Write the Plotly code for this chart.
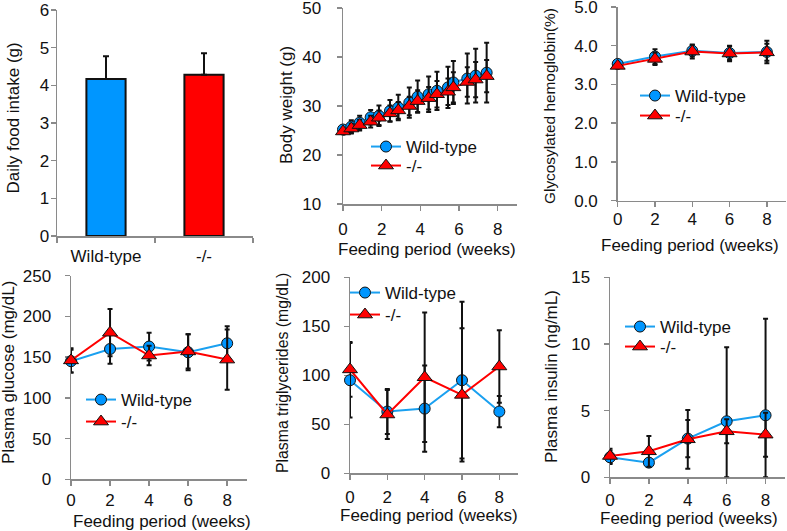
import plotly.graph_objects as go

# ---------------- data ----------------
groups = ["Wild-type", "-/-"]
food_intake = [4.17, 4.28]
food_intake_err = [0.60, 0.57]

bw_weeks = [0, 0.43, 0.86, 1.43, 1.86, 2.43, 2.86, 3.43, 3.86, 4.43, 4.86, 5.43, 5.71, 6.43, 6.86, 7.43]
bw_wt = [25.2, 25.8, 26.6, 27.7, 28.0, 29.0, 29.7, 30.7, 31.9, 32.4, 33.1, 33.8, 34.8, 35.6, 36.2, 36.8]
bw_wt_err = [0.6, 1.3, 1.4, 1.5, 2.1, 2.2, 2.6, 3.1, 3.3, 3.6, 3.9, 4.2, 4.4, 5.1, 5.5, 6.1]
bw_ko = [24.8, 25.4, 26.1, 26.8, 27.6, 28.5, 29.1, 30.0, 31.0, 31.6, 32.4, 32.9, 33.8, 34.9, 35.4, 36.1]
bw_ko_err = [0.6, 1.0, 1.1, 1.2, 1.5, 1.6, 1.7, 1.9, 2.2, 2.3, 2.7, 2.7, 3.1, 3.0, 3.6, 3.3]

weeks = [0, 2, 4, 6, 8]

hb_wt = [3.53, 3.72, 3.87, 3.81, 3.84]
hb_wt_err = [0.05, 0.19, 0.15, 0.18, 0.29]
hb_ko = [3.48, 3.66, 3.85, 3.80, 3.83]
hb_ko_err = [0.05, 0.16, 0.18, 0.20, 0.22]

glu_wt = [145, 160, 163, 156, 167]
glu_wt_err = [14, 18, 17, 22, 21]
glu_ko = [146, 180, 152, 157, 147]
glu_ko_err = [15, 29, 12, 21, 37]

tg_wt = [95, 63, 66, 95, 63]
tg_wt_err = [38, 23, 44, 80, 16]
tg_ko = [106, 60, 98, 80, 109]
tg_ko_err = [28, 25, 66, 68, 37]

ins_wt = [1.5, 1.1, 2.9, 4.2, 4.65]
ins_wt_err = [0.5, 0.3, 1.4, 5.55, 7.25]
ins_ko = [1.6, 1.95, 2.85, 3.45, 3.2]
ins_ko_err = [0.55, 1.15, 2.2, 0.9, 1.65]

# ---------------- style ----------------
FONT = "Arial, Liberation Sans, sans-serif"
FS = 17
TXT = "#111111"
AX = "#8a8a8a"
BLUE = "#0096FF"
BLUE_LINE = "#1aa0f0"
RED = "#FF0000"
W, H = 787, 531

def dom_x(a, b):
    return [a / W, b / W]

def dom_y(top, bottom):
    return [1 - bottom / H, 1 - top / H]

fig = go.Figure()

# Panel 1: bars
fig.add_trace(go.Bar(
    x=groups, y=food_intake, width=0.4,
    marker=dict(color=[BLUE, RED], line=dict(color="#111111", width=2)),
    error_y=dict(type="data", symmetric=False, array=food_intake_err,
                 arrayminus=[0, 0], color="#111111", thickness=2, width=3),
    xaxis="x", yaxis="y", showlegend=False,
))

def add_pair(xv, wt, wte, ko, koe, xa, ya, lg_wt, lg_ko, clip_zero=False):
    wt_minus = [min(e, v) for v, e in zip(wt, wte)] if clip_zero else wte
    ko_minus = [min(e, v) for v, e in zip(ko, koe)] if clip_zero else koe
    fig.add_trace(go.Scatter(
        x=xv, y=wt, name="Wild-type", mode="lines+markers",
        line=dict(color=BLUE_LINE, width=2),
        marker=dict(symbol="circle", size=11, color=BLUE, line=dict(color="#111111", width=1)),
        error_y=dict(type="data", symmetric=False, array=wte, arrayminus=wt_minus,
                     color="#111111", thickness=2, width=2.5),
        xaxis=xa, yaxis=ya, legend=lg_wt, cliponaxis=False,
    ))
    fig.add_trace(go.Scatter(
        x=xv, y=ko, name="-/-", mode="lines+markers",
        line=dict(color=RED, width=2),
        marker=dict(symbol="triangle-up", size=13, color=RED, line=dict(color="#111111", width=1)),
        error_y=dict(type="data", symmetric=False, array=koe, arrayminus=ko_minus,
                     color="#111111", thickness=2, width=2.5),
        xaxis=xa, yaxis=ya, legend=lg_ko, cliponaxis=False,
    ))

add_pair(bw_weeks, bw_wt, bw_wt_err, bw_ko, bw_ko_err, "x2", "y2", "legend", "legend2")
add_pair(weeks, hb_wt, hb_wt_err, hb_ko, hb_ko_err, "x3", "y3", "legend3", "legend4")
add_pair(weeks, glu_wt, glu_wt_err, glu_ko, glu_ko_err, "x4", "y4", "legend5", "legend6")
add_pair(weeks, tg_wt, tg_wt_err, tg_ko, tg_ko_err, "x5", "y5", "legend7", "legend8")
add_pair(weeks, ins_wt, ins_wt_err, ins_ko, ins_ko_err, "x6", "y6", "legend9", "legend10", clip_zero=True)

axis_common = dict(
    showline=True, linecolor=AX, linewidth=1.5, ticks="outside", tickcolor=AX,
    ticklen=5, tickwidth=1.5, showgrid=False, zeroline=False, layer="below traces",
    tickfont=dict(family=FONT, size=FS, color=TXT), fixedrange=True, automargin=False,
    ticklabeloverflow="allow",
)

def xaxis_lin(dom, anchor, standoff=0):
    return dict(axis_common, domain=dom, anchor=anchor, range=[0, 9],
                tickvals=weeks, ticktext=[str(w) for w in weeks],
                ticklabelstandoff=standoff)

def yaxis_lin(dom, anchor, rng, dtick, fmt=None, standoff=10):
    d = dict(axis_common, domain=dom, anchor=anchor, range=rng, dtick=dtick, tick0=0,
             ticklabelstandoff=standoff)
    if fmt:
        d["tickformat"] = fmt
    return d

layout = dict(
    width=W, height=H, margin=dict(l=0, r=0, t=0, b=0, autoexpand=False),
    paper_bgcolor="white", plot_bgcolor="white",
    font=dict(family=FONT, size=FS, color=TXT),
    xaxis=dict(axis_common, domain=dom_x(57, 253), anchor="y", type="category",
               range=[-0.5, 1.5], tickson="boundaries", ticklabelstandoff=4),
    yaxis=yaxis_lin(dom_y(10, 236), "x", [0, 6], 1, standoff=-2),
    xaxis2=xaxis_lin(dom_x(343, 517), "y2", 4),
    yaxis2=yaxis_lin(dom_y(8, 204), "x2", [10, 50], 10, standoff=12),
    xaxis3=xaxis_lin(dom_x(617.7, 785.5), "y3", -3),
    yaxis3=yaxis_lin(dom_y(7, 200.7), "x3", [0, 5], 1, ".1f"),
    xaxis4=xaxis_lin(dom_x(71, 246.7), "y4", 0),
    yaxis4=yaxis_lin(dom_y(275.7, 479.3), "x4", [0, 250], 50),
    xaxis5=xaxis_lin(dom_x(350, 518), "y5", 3),
    yaxis5=yaxis_lin(dom_y(277.3, 473.3), "x5", [0, 200], 50),
    xaxis6=xaxis_lin(dom_x(610, 785), "y6", 2),
    yaxis6=yaxis_lin(dom_y(277.3, 477.3), "x6", [0, 15], 5),
)

# axis titles (text placed at pixel positions of the reference)
y_titles = [
    ("Daily food intake (g)", 12.5, 118, FS),
    ("Body weight (g)", 286, 105, FS),
    ("Glycosylated hemoglobin(%)", 550, 106, 15.4),
    ("Plasma glucose (mg/dL)", 8, 373, FS),
    ("Plasma triglycerides (mg/dL)", 282, 373, 15.8),
    ("Plasma insulin (ng/mL)", 551, 377, FS),
]
x_titles = [
    ("Feeding period (weeks)", 427, 249),
    ("Feeding period (weeks)", 690, 246),
    ("Feeding period (weeks)", 161.5, 521),
    ("Feeding period (weeks)", 429, 515),
    ("Feeding period (weeks)", 689, 518),
]
annotations = []
for txt, px, py, fs in y_titles:
    annotations.append(dict(text=txt, x=px / W, y=1 - py / H, xref="paper", yref="paper",
                            xanchor="center", yanchor="middle", textangle=-90, showarrow=False,
                            font=dict(family=FONT, size=fs, color=TXT)))
for txt, px, py in x_titles:
    annotations.append(dict(text=txt, x=px / W, y=1 - py / H, xref="paper", yref="paper",
                            xanchor="center", yanchor="middle", showarrow=False,
                            font=dict(family=FONT, size=FS, color=TXT)))
layout["annotations"] = annotations

def legend_at(text_left, center):
    return dict(x=(text_left - 42) / W, y=1 - (center - 18) / H,
                xanchor="left", yanchor="top", bgcolor="rgba(0,0,0,0)",
                borderwidth=0, font=dict(family=FONT, size=FS, color=TXT),
                tracegroupgap=0, itemwidth=30)

legend_pos = [
    (408, 147), (408, 166),
    (677, 96), (677, 116),
    (123, 400), (123, 422),
    (387, 293), (387, 315),
    (662, 327), (662, 347),
]
for i, (tl, c) in enumerate(legend_pos):
    key = "legend" if i == 0 else f"legend{i + 1}"
    layout[key] = legend_at(tl, c)

fig.update_layout(**layout)
fig.write_html("out.html", config={"displayModeBar": False, "staticPlot": True},
               post_script="document.body.style.margin='0';document.body.style.overflow='hidden';")
